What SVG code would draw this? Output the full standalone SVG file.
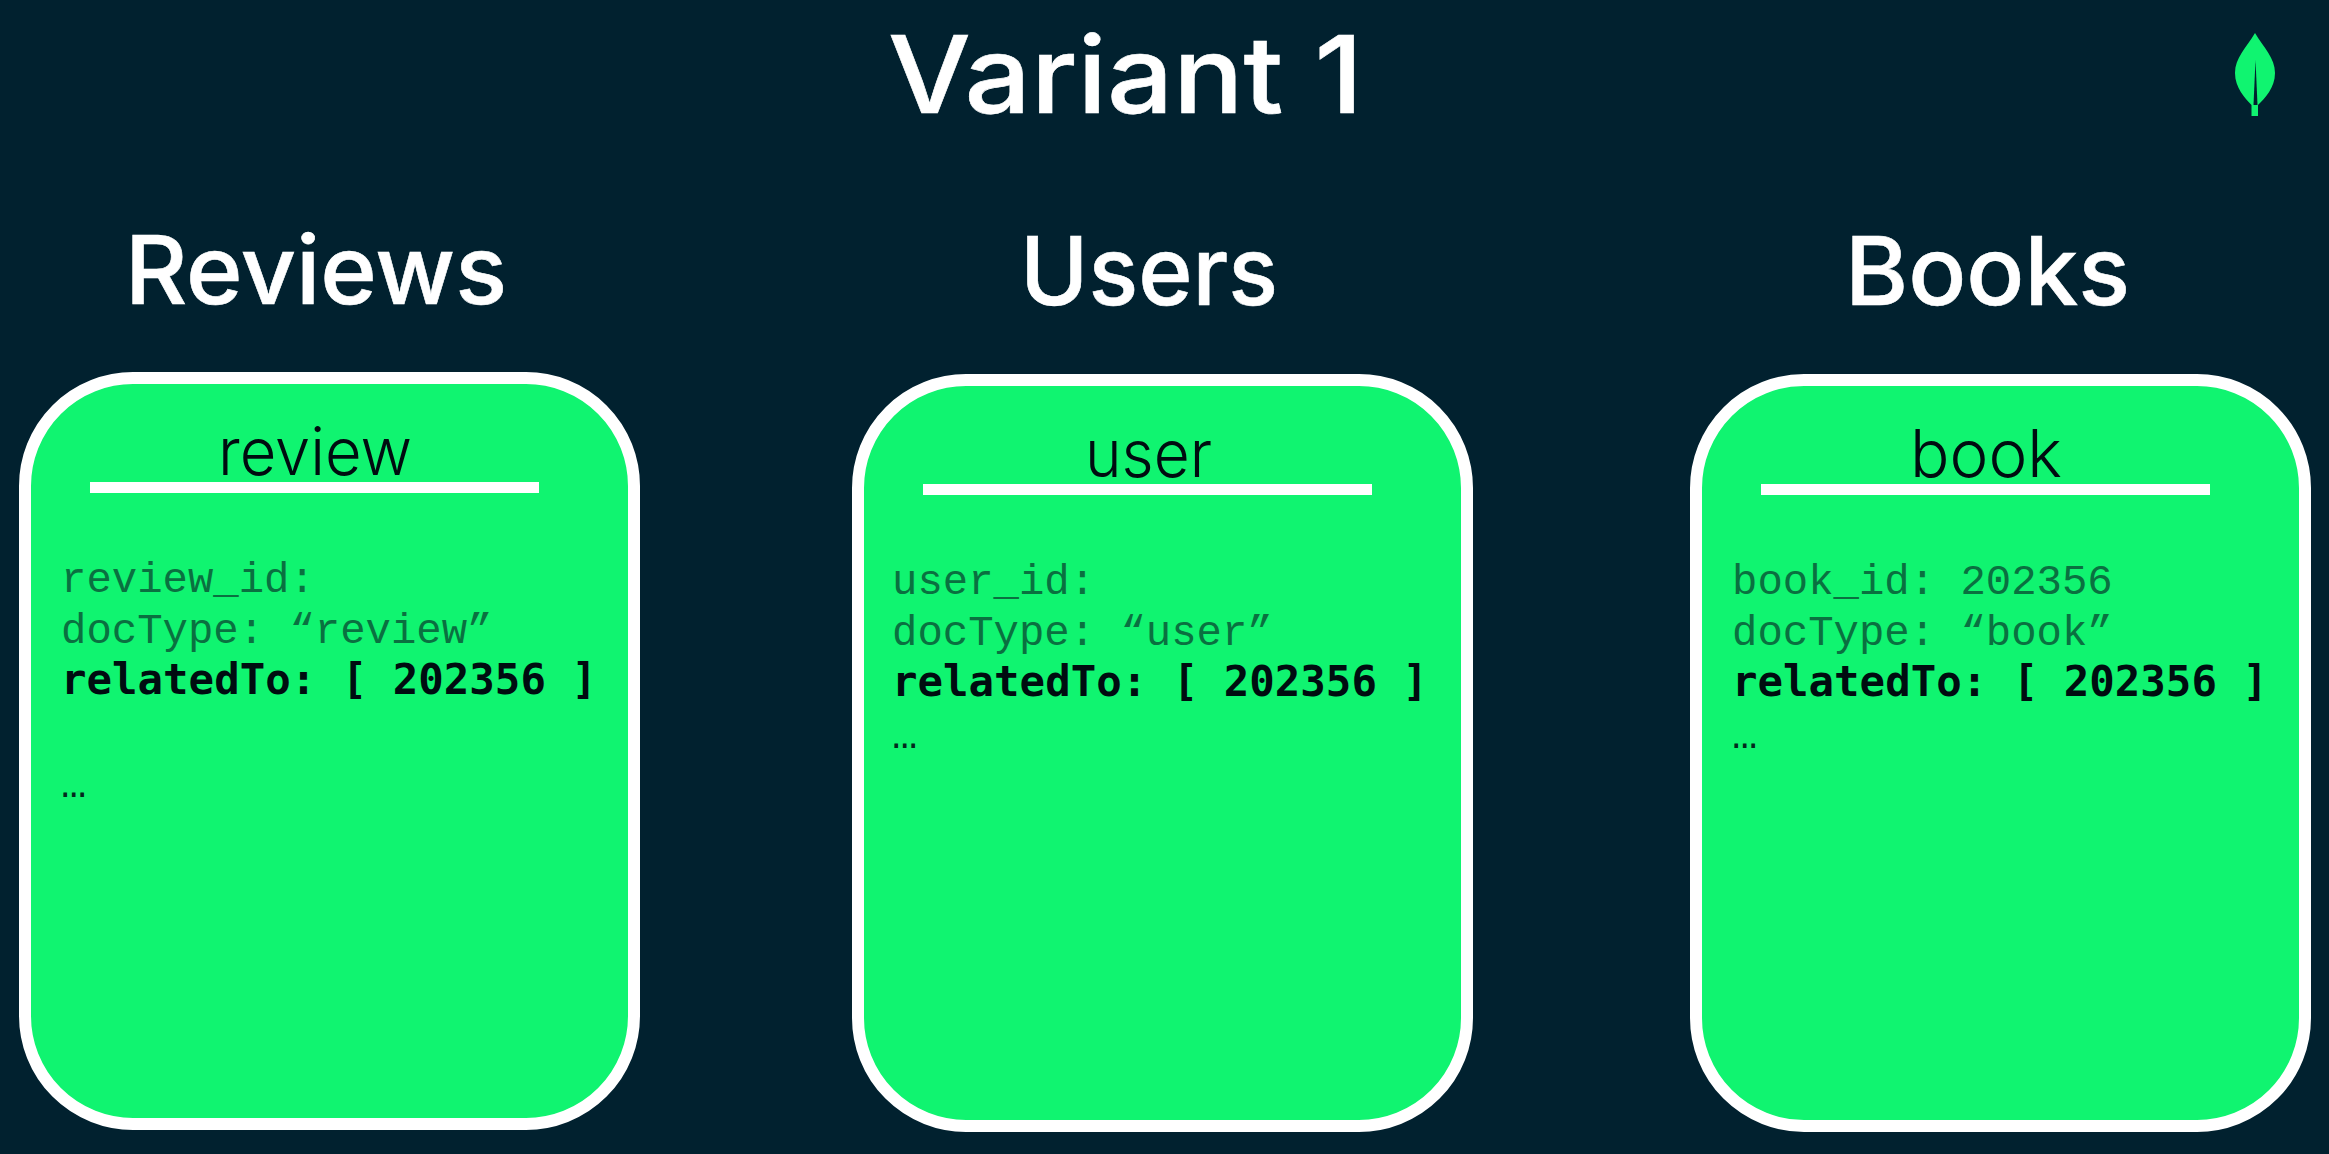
<svg xmlns="http://www.w3.org/2000/svg" width="2329" height="1154" viewBox="0 0 2329 1154">
<style>
.h{font-family:"Inter","Liberation Sans",sans-serif;font-weight:500;fill:#fff;stroke:#fff;stroke-width:.6px}
.n{font-family:"Inter","Liberation Sans",sans-serif;font-weight:300;font-size:66px;fill:#000c10}
.l{font-family:"Liberation Mono","DejaVu Sans Mono",monospace;font-size:42.300px;fill:#0a7040}
.d{font-family:"Liberation Mono","DejaVu Sans Mono",monospace;font-size:42.300px;fill:#03281c}
.b{font-family:"DejaVu Sans Mono","Liberation Mono",monospace;font-weight:700;font-size:42.400px;fill:#000c10}
.card{fill:#10f470;stroke:#fff;stroke-width:12}
.rule{fill:#fff}
</style>
<rect width="2329" height="1154" fill="#01212f"/>
<text class="h" x="888" y="113" font-size="107" textLength="475" lengthAdjust="spacingAndGlyphs">Variant 1</text>
<g id="leaf">
<path d="M2255 33C2246 48 2235 58 2235 73C2235 88 2245 98 2251.500 105L2251.500 116L2258 116L2258 105C2265 98 2275 88 2275 73C2275 58 2264 48 2255 33Z" fill="#10f470"/>
<path d="M2255.500 60L2257.500 105L2253.500 105Z" fill="#02202f"/>
</g>
<g id="reviews">
<text class="h" x="125" y="304" font-size="95" textLength="382" lengthAdjust="spacingAndGlyphs">Reviews</text>
<rect class="card" x="25" y="378" width="609" height="746" rx="108"/>
<text class="n" x="218" y="475" textLength="194" lengthAdjust="spacingAndGlyphs">review</text>
<rect class="rule" x="90" y="482" width="449" height="11"/>
<text class="l" x="61" y="592">review_id:</text>
<text class="l" x="61" y="643">docType: “review”</text>
<text class="b" x="61" y="694">relatedTo: [ 202356 ]</text>
<text class="d" x="61" y="797">…</text>
</g>
<g id="users">
<text class="h" x="1020" y="305" font-size="95" textLength="258" lengthAdjust="spacingAndGlyphs">Users</text>
<rect class="card" x="858" y="380" width="609" height="746" rx="108"/>
<text class="n" x="1085" y="477" textLength="127" lengthAdjust="spacingAndGlyphs">user</text>
<rect class="rule" x="923" y="484" width="449" height="11"/>
<text class="l" x="892" y="594">user_id:</text>
<text class="l" x="892" y="645">docType: “user”</text>
<text class="b" x="892" y="696">relatedTo: [ 202356 ]</text>
<text class="d" x="892" y="748">…</text>
</g>
<g id="books">
<text class="h" x="1845" y="305" font-size="95" textLength="285" lengthAdjust="spacingAndGlyphs">Books</text>
<rect class="card" x="1696" y="380" width="609" height="746" rx="108"/>
<text class="n" x="1910" y="477" textLength="152" lengthAdjust="spacingAndGlyphs">book</text>
<rect class="rule" x="1761" y="484" width="449" height="11"/>
<text class="l" x="1732" y="594">book_id: 202356</text>
<text class="l" x="1732" y="645">docType: “book”</text>
<text class="b" x="1732" y="696">relatedTo: [ 202356 ]</text>
<text class="d" x="1732" y="748">…</text>
</g>
</svg>
